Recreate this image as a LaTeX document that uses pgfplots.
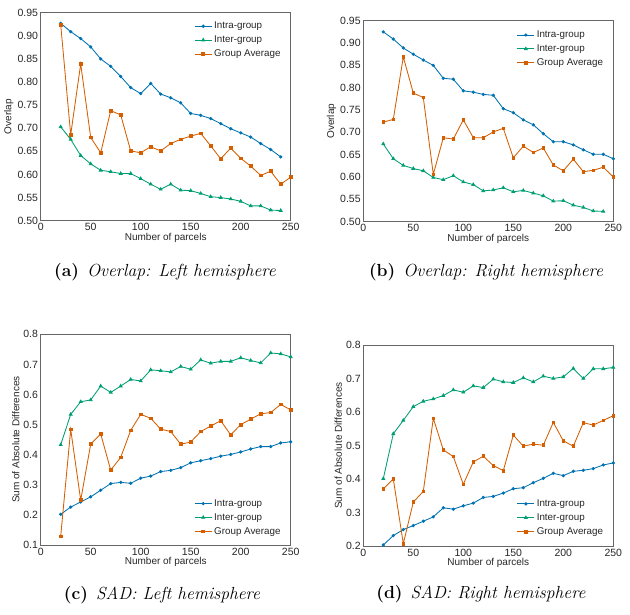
\documentclass[border=0pt]{standalone}
\usepackage{fontspec}
\usepackage{pgfplots}
\pgfplotsset{compat=1.18}
\newfontfamily\arial{Liberation Sans}
\definecolor{c1}{HTML}{0072B2}
\definecolor{c2}{HTML}{009E73}
\definecolor{c3}{HTML}{D55E00}
\pgfplotsset{
  myax/.style={
    scale only axis, width=250pt, xmin=0, xmax=250, xtick={0,50,...,250},
    axis line style={black!60, line width=0.8pt},
    major tick length=0pt, tick style={draw=none},
    ticklabel style={font=\arial\fontsize{10.5}{12}\selectfont, text=black!85},
    yticklabel style={inner sep=2.5pt},
    xticklabel style={inner sep=2.5pt},
    label style={font=\arial\fontsize{10}{12}\selectfont, text=black!85},
    xlabel={Number of parcels},
    xlabel style={yshift=3.5pt},
    ylabel style={yshift=-2pt},
    /pgf/number format/assume math mode=true,
    legend cell align=left,
    legend style={draw=none, fill=none, font=\arial\fontsize{9.8}{11}\selectfont, text=black!85, row sep=1.6pt},
    every axis plot/.append style={line width=0.85pt},
  },
  intra/.style={color=c1, mark=*, mark size=1.2pt},
  inter/.style={color=c2, mark=triangle*, mark size=1.6pt},
  ga/.style={color=c3, mark=square*, mark size=1.35pt},
}
\begin{document}
\begin{tikzpicture}
\useasboundingbox (0,0) rectangle (630pt,-614pt);
% (a)
\begin{axis}[myax, at={(40.7pt,-12.7pt)}, anchor=north west, height=208pt,
  ymin=0.5, ymax=0.95, ytick={0.5,0.55,...,0.96},
  yticklabel style={/pgf/number format/.cd, fixed, fixed zerofill, precision=2},
  ylabel={Overlap},
  legend style={at={(0.98,0.975)}, anchor=north east}]
\addplot[intra] coordinates {(20,0.927)(30,0.909)(40,0.894)(50,0.876)(60,0.850)(70,0.834)(80,0.812)(90,0.788)(100,0.775)(110,0.797)(120,0.774)(130,0.766)(140,0.755)(150,0.732)(160,0.728)(170,0.721)(180,0.710)(190,0.699)(200,0.690)(210,0.681)(220,0.667)(230,0.654)(240,0.638)};
\addlegendentry{Intra-group}
\addplot[inter] coordinates {(20,0.703)(30,0.676)(40,0.641)(50,0.623)(60,0.609)(70,0.606)(80,0.602)(90,0.602)(100,0.591)(110,0.579)(120,0.568)(130,0.579)(140,0.566)(150,0.565)(160,0.559)(170,0.552)(180,0.550)(190,0.547)(200,0.542)(210,0.532)(220,0.532)(230,0.523)(240,0.522)};
\addlegendentry{Inter-group}
\addplot[ga] coordinates {(20,0.924)(30,0.686)(40,0.839)(50,0.680)(60,0.647)(70,0.738)(80,0.729)(90,0.651)(100,0.647)(110,0.660)(120,0.651)(130,0.667)(140,0.676)(150,0.683)(160,0.689)(170,0.662)(180,0.634)(190,0.657)(200,0.635)(210,0.618)(220,0.598)(230,0.607)(240,0.579)(250,0.594)};
\addlegendentry{Group Average}
\end{axis}
% (b)
\begin{axis}[myax, at={(363.3pt,-20.7pt)}, anchor=north west, height=201pt,
  ymin=0.5, ymax=0.95, ytick={0.5,0.55,...,0.96},
  yticklabel style={/pgf/number format/.cd, fixed, fixed zerofill, precision=2},
  ylabel={Overlap},
  legend style={at={(0.98,0.97)}, anchor=north east}]
\addplot[intra] coordinates {(20,0.925)(30,0.909)(40,0.889)(50,0.875)(60,0.862)(70,0.850)(80,0.821)(90,0.819)(100,0.793)(110,0.790)(120,0.785)(130,0.783)(140,0.753)(150,0.744)(160,0.728)(170,0.717)(180,0.697)(190,0.679)(200,0.679)(210,0.672)(220,0.661)(230,0.651)(240,0.651)(250,0.641)};
\addlegendentry{Intra-group}
\addplot[inter] coordinates {(20,0.674)(30,0.641)(40,0.626)(50,0.619)(60,0.614)(70,0.599)(80,0.594)(90,0.603)(100,0.589)(110,0.583)(120,0.569)(130,0.571)(140,0.576)(150,0.567)(160,0.570)(170,0.564)(180,0.558)(190,0.546)(200,0.547)(210,0.537)(220,0.532)(230,0.524)(240,0.523)};
\addlegendentry{Inter-group}
\addplot[ga] coordinates {(20,0.723)(30,0.729)(40,0.869)(50,0.788)(60,0.778)(70,0.606)(80,0.688)(90,0.685)(100,0.728)(110,0.688)(120,0.688)(130,0.701)(140,0.709)(150,0.643)(160,0.669)(170,0.655)(180,0.665)(190,0.627)(200,0.614)(210,0.640)(220,0.612)(230,0.615)(240,0.622)(250,0.600)};
\addlegendentry{Group Average}
\end{axis}
% (c)
\begin{axis}[myax, at={(40.7pt,-334.3pt)}, anchor=north west, height=210.7pt,
  ymin=0.1, ymax=0.8, ytick={0.1,0.2,...,0.81},
  yticklabel style={/pgf/number format/.cd, fixed, fixed zerofill, precision=1},
  ylabel={Sum of Absolute Differences},
  legend style={at={(0.98,0.025)}, anchor=south east}]
\addplot[intra] coordinates {(20,0.202)(30,0.226)(40,0.243)(50,0.260)(60,0.282)(70,0.304)(80,0.308)(90,0.305)(100,0.322)(110,0.329)(120,0.344)(130,0.348)(140,0.357)(150,0.373)(160,0.380)(170,0.387)(180,0.395)(190,0.401)(200,0.409)(210,0.419)(220,0.427)(230,0.427)(240,0.439)(250,0.443)};
\addlegendentry{Intra-group}
\addplot[inter] coordinates {(20,0.433)(30,0.534)(40,0.576)(50,0.582)(60,0.628)(70,0.607)(80,0.628)(90,0.650)(100,0.645)(110,0.682)(120,0.679)(130,0.675)(140,0.693)(150,0.684)(160,0.715)(170,0.704)(180,0.710)(190,0.710)(200,0.722)(210,0.713)(220,0.705)(230,0.738)(240,0.735)(250,0.725)};
\addlegendentry{Inter-group}
\addplot[ga] coordinates {(20,0.129)(30,0.484)(40,0.249)(50,0.435)(60,0.469)(70,0.349)(80,0.391)(90,0.481)(100,0.534)(110,0.521)(120,0.485)(130,0.477)(140,0.435)(150,0.442)(160,0.477)(170,0.495)(180,0.513)(190,0.466)(200,0.500)(210,0.518)(220,0.536)(230,0.540)(240,0.567)(250,0.549)};
\addlegendentry{Group Average}
\end{axis}
% (d)
\begin{axis}[myax, at={(363.3pt,-345pt)}, anchor=north west, height=201pt,
  ymin=0.2, ymax=0.8, ytick={0.2,0.3,...,0.81},
  yticklabel style={/pgf/number format/.cd, fixed, fixed zerofill, precision=1},
  ylabel={Sum of Absolute Differences},
  legend style={at={(0.98,0.03)}, anchor=south east}]
\addplot[intra] coordinates {(20,0.203)(30,0.231)(40,0.249)(50,0.261)(60,0.274)(70,0.287)(80,0.314)(90,0.310)(100,0.320)(110,0.328)(120,0.345)(130,0.348)(140,0.358)(150,0.371)(160,0.374)(170,0.389)(180,0.402)(190,0.417)(200,0.410)(210,0.423)(220,0.426)(230,0.431)(240,0.442)(250,0.448)};
\addlegendentry{Intra-group}
\addplot[inter] coordinates {(20,0.401)(30,0.535)(40,0.575)(50,0.616)(60,0.632)(70,0.639)(80,0.649)(90,0.666)(100,0.659)(110,0.678)(120,0.673)(130,0.698)(140,0.690)(150,0.688)(160,0.702)(170,0.690)(180,0.707)(190,0.700)(200,0.705)(210,0.730)(220,0.700)(230,0.729)(240,0.729)(250,0.733)};
\addlegendentry{Inter-group}
\addplot[ga] coordinates {(20,0.370)(30,0.400)(40,0.207)(50,0.331)(60,0.363)(70,0.581)(80,0.487)(90,0.467)(100,0.384)(110,0.451)(120,0.468)(130,0.440)(140,0.425)(150,0.531)(160,0.498)(170,0.504)(180,0.501)(190,0.569)(200,0.514)(210,0.498)(220,0.568)(230,0.561)(240,0.575)(250,0.589)};
\addlegendentry{Group Average}
\end{axis}
\node[font=\fontsize{17.5}{20}\selectfont] at (165pt,-272pt) {\textbf{(a)}\hspace{8pt}\textit{Overlap: Left hemisphere}};
\node[font=\fontsize{17.5}{20}\selectfont] at (486pt,-272pt) {\textbf{(b)}\hspace{8pt}\textit{Overlap: Right hemisphere}};
\node[font=\fontsize{17.5}{20}\selectfont] at (162pt,-595pt) {\textbf{(c)}\hspace{8pt}\textit{SAD: Left hemisphere}};
\node[font=\fontsize{17.5}{20}\selectfont] at (481pt,-594pt) {\textbf{(d)}\hspace{8pt}\textit{SAD: Right hemisphere}};
\end{tikzpicture}
\end{document}
